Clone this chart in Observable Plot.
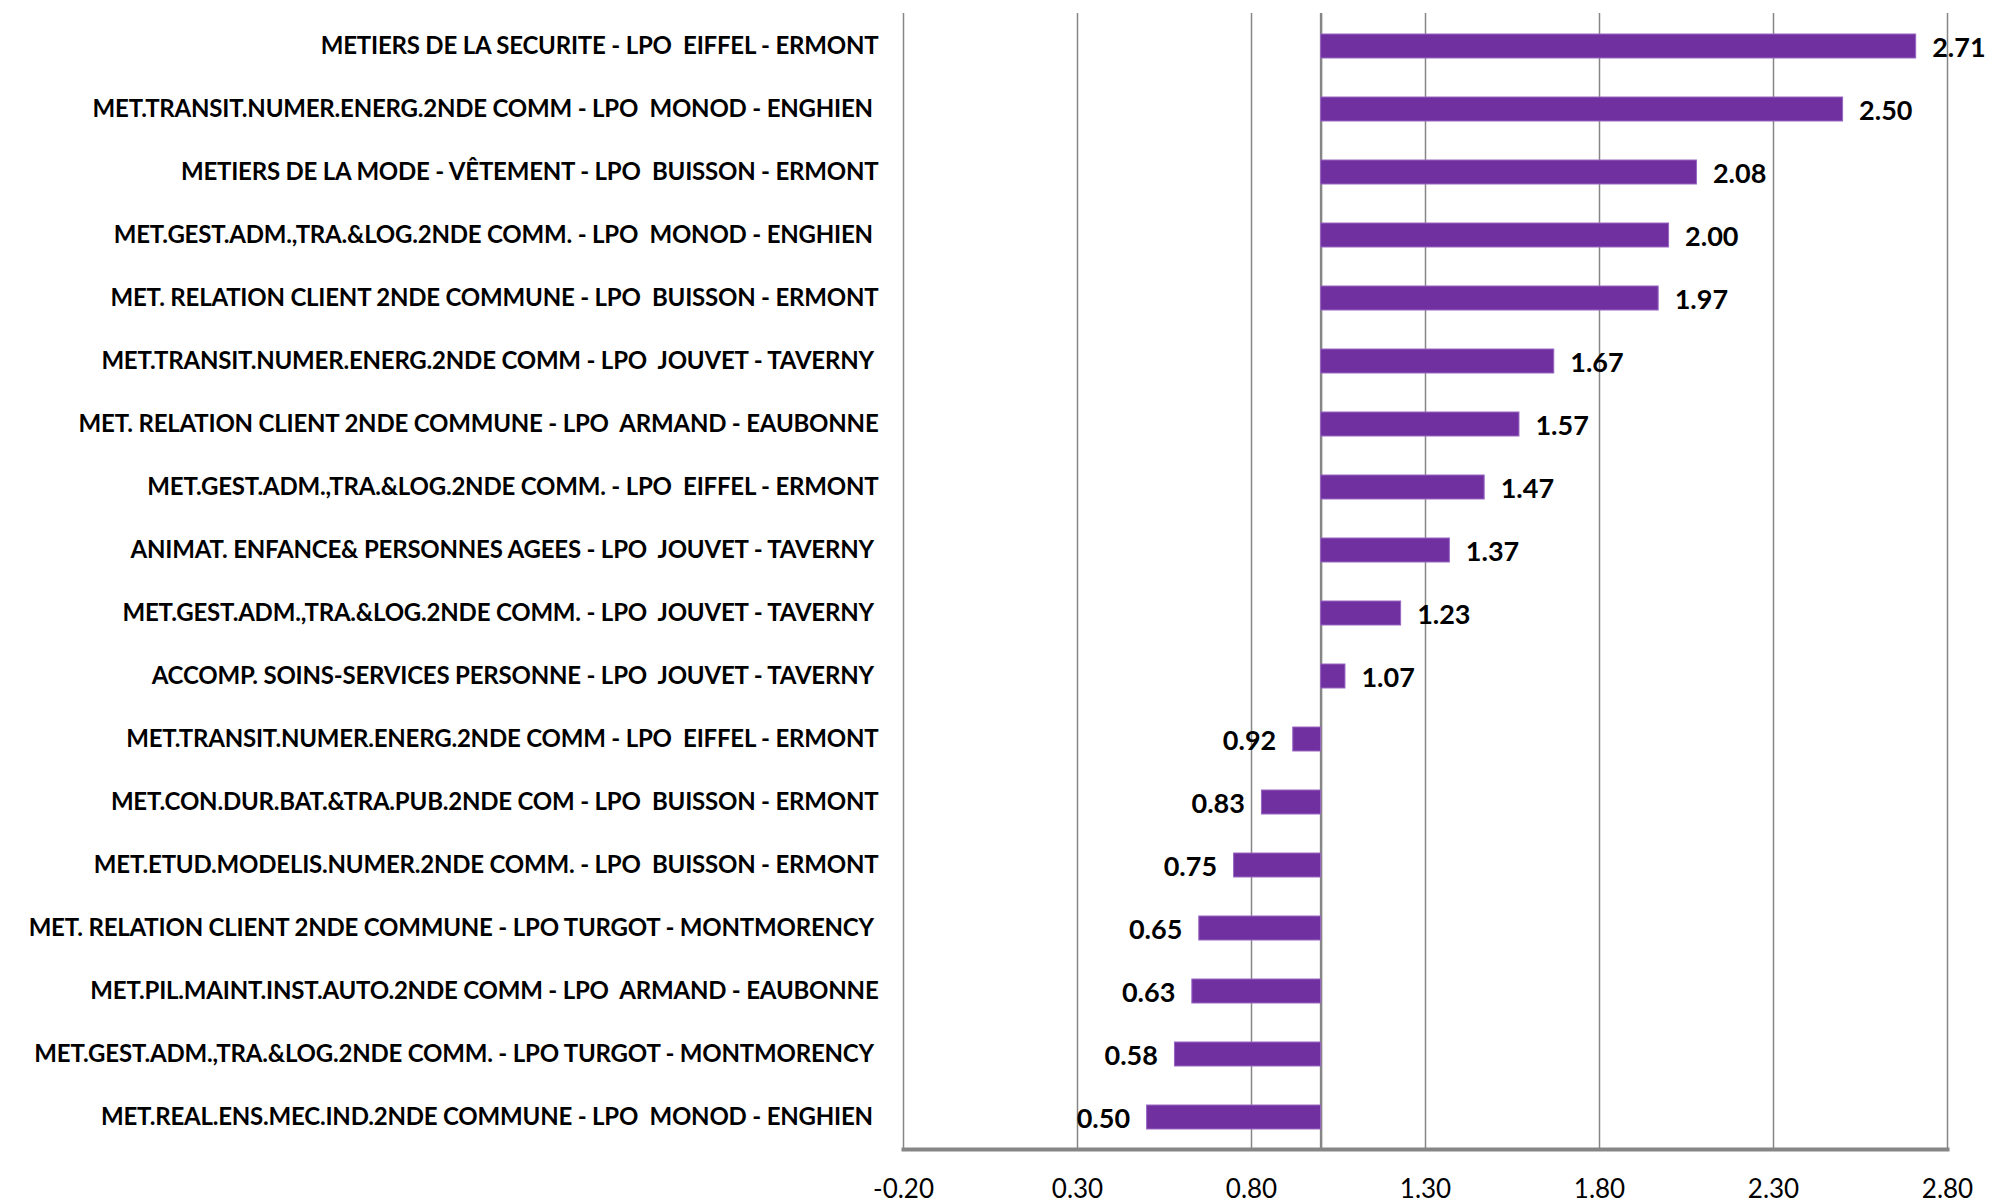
<!DOCTYPE html>
<html>
<head>
<meta charset="utf-8">
<script src="https://cdn.jsdelivr.net/npm/d3@7"></script>
<script src="https://cdn.jsdelivr.net/npm/@observablehq/plot@0.6"></script>
<style>
  html, body { margin: 0; padding: 0; background: #fff; overflow: hidden; }
  svg text { white-space: pre; }
  g[aria-label="y-axis tick label"] text { letter-spacing: -0.2px; }
</style>
</head>
<body>
<div id="chart"></div>
<script>
const categories = [
  "METIERS DE LA SECURITE - LPO  EIFFEL - ERMONT",
  "MET.TRANSIT.NUMER.ENERG.2NDE COMM - LPO  MONOD - ENGHIEN ",
  "METIERS DE LA MODE - VÊTEMENT - LPO  BUISSON - ERMONT",
  "MET.GEST.ADM.,TRA.&LOG.2NDE COMM. - LPO  MONOD - ENGHIEN ",
  "MET. RELATION CLIENT 2NDE COMMUNE - LPO  BUISSON - ERMONT",
  "MET.TRANSIT.NUMER.ENERG.2NDE COMM - LPO  JOUVET - TAVERNY ",
  "MET. RELATION CLIENT 2NDE COMMUNE - LPO  ARMAND - EAUBONNE",
  "MET.GEST.ADM.,TRA.&LOG.2NDE COMM. - LPO  EIFFEL - ERMONT",
  "ANIMAT. ENFANCE& PERSONNES AGEES - LPO  JOUVET - TAVERNY ",
  "MET.GEST.ADM.,TRA.&LOG.2NDE COMM. - LPO  JOUVET - TAVERNY ",
  "ACCOMP. SOINS-SERVICES PERSONNE - LPO  JOUVET - TAVERNY ",
  "MET.TRANSIT.NUMER.ENERG.2NDE COMM - LPO  EIFFEL - ERMONT",
  "MET.CON.DUR.BAT.&TRA.PUB.2NDE COM - LPO  BUISSON - ERMONT",
  "MET.ETUD.MODELIS.NUMER.2NDE COMM. - LPO  BUISSON - ERMONT",
  "MET. RELATION CLIENT 2NDE COMMUNE - LPO TURGOT - MONTMORENCY ",
  "MET.PIL.MAINT.INST.AUTO.2NDE COMM - LPO  ARMAND - EAUBONNE",
  "MET.GEST.ADM.,TRA.&LOG.2NDE COMM. - LPO TURGOT - MONTMORENCY ",
  "MET.REAL.ENS.MEC.IND.2NDE COMMUNE - LPO  MONOD - ENGHIEN "
];
const values = [2.71, 2.50, 2.08, 2.00, 1.97, 1.67, 1.57, 1.47, 1.37, 1.23, 1.07, 0.92, 0.83, 0.75, 0.65, 0.63, 0.58, 0.50];
const xTicks = [-0.20, 0.30, 0.80, 1.30, 1.80, 2.30, 2.80];
const baseline = 1.0;

const data = categories.map((c, i) => ({label: c, value: values[i]}));
const fmt = d => d.toFixed(2);
const FONT = "Lato, sans-serif";

const chart = Plot.plot({
  width: 1989,
  height: 1203,
  marginLeft: 903,
  marginRight: 42,
  marginTop: 13,
  marginBottom: 54,
  style: {fontFamily: FONT, background: "#fff", color: "#000"},
  x: {domain: [-0.2, 2.8]},
  y: {domain: categories, paddingInner: 0.62, paddingOuter: 0.31, align: 0.5},
  marks: [
    Plot.ruleX(xTicks, {stroke: "#868686", strokeWidth: 1.5}),
    Plot.ruleX([baseline], {stroke: "#868686", strokeWidth: 2.5}),
    Plot.barX(data, {x1: baseline, x2: "value", y: "label", fill: "#7030A0", stroke: "#9966c2", strokeWidth: 1}),
    Plot.text(data.filter(d => d.value >= baseline), {x: "value", y: "label", text: d => fmt(d.value), textAnchor: "start", dx: 16, dy: 2, fontSize: 27, fontWeight: "bold", fill: "#000"}),
    Plot.text(data.filter(d => d.value < baseline), {x: "value", y: "label", text: d => fmt(d.value), textAnchor: "end", dx: -17, dy: 2, fontSize: 27, fontWeight: "bold", fill: "#000"}),
    Plot.axisY({tickSize: 0, tickPadding: 25, fontSize: 24, fontWeight: "bold", label: null, fill: "#000"}),
    Plot.axisX({ticks: xTicks, tickFormat: fmt, tickSize: 0, tickPadding: 30, fontSize: 26, label: null, fill: "#000"}),
    Plot.frame({anchor: "bottom", stroke: "#868686", strokeWidth: 4})
  ]
});
document.getElementById("chart").appendChild(chart);
</script>
</body>
</html>
